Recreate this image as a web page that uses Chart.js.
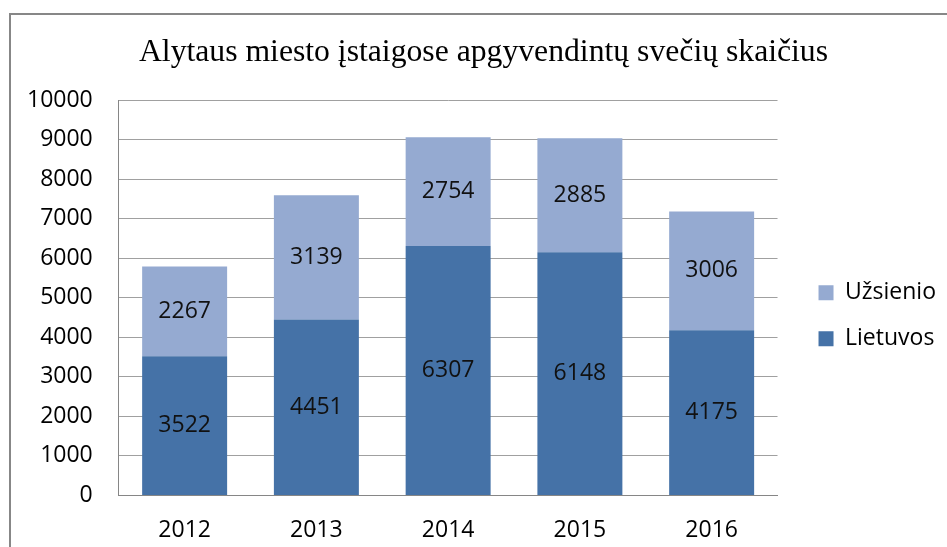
<!DOCTYPE html>
<html>
<head>
<meta charset="utf-8">
<script src="https://cdn.jsdelivr.net/npm/chart.js@4"></script>
<style>
  html, body { margin: 0; padding: 0; background: #fff; overflow: hidden; }
  body { width: 947px; height: 547px; position: relative; }
  #frame {
    position: absolute; left: 9px; top: 13px;
    border-left: 2px solid #878787; border-top: 2px solid #878787;
    width: 967px; height: 558px;
  }
</style>
</head>
<body>
<div id="frame"><canvas id="chart" width="967" height="558"></canvas></div>
<script>
// Alytaus miesto apgyvendinti svečiai

const years = ['2012', '2013', '2014', '2015', '2016'];
const lietuvos = [3522, 4451, 6307, 6148, 4175];
const uzsienio = [2267, 3139, 2754, 2885, 3006];
const yTicks = [0, 1000, 2000, 3000, 4000, 5000, 6000, 7000, 8000, 9000, 10000];

const FONT = "'Open Sans', sans-serif";

// numbers in the middle of each bar segment
const segmentLabels = {
  id: 'segmentLabels',
  afterDatasetsDraw(chart) {
    const ctx = chart.ctx;
    ctx.save();
    ctx.font = '23px ' + FONT;
    ctx.fillStyle = '#111';
    ctx.textAlign = 'center';
    ctx.textBaseline = 'middle';
    chart.data.datasets.forEach((ds, i) => {
      chart.getDatasetMeta(i).data.forEach((bar, j) => {
        ctx.fillText(ds.data[j], bar.x, (bar.y + bar.base) / 2);
      });
    });
    ctx.restore();
  }
};

// the title in the original sits a little right of the canvas middle
const titleNudge = {
  id: 'titleNudge',
  afterLayout(chart) {
    if (chart.titleBlock) {
      chart.titleBlock.left += 10;
      chart.titleBlock.right += 10;
    }
  }
};

new Chart(document.getElementById('chart'), {
  type: 'bar',
  data: {
    labels: years,
    datasets: [
      { label: 'Lietuvos', data: lietuvos, backgroundColor: '#4572A7' },
      { label: 'Užsienio', data: uzsienio, backgroundColor: '#95AAD1' }
    ]
  },
  options: {
    responsive: false,
    animation: false,
    layout: { padding: { left: -10, right: 32, bottom: 8, top: 0 } },
    datasets: { bar: { barPercentage: 0.645, categoryPercentage: 1 } },
    plugins: {
      title: {
        display: true,
        text: 'Alytaus miesto įstaigose apgyvendintų svečių skaičius',
        color: '#000',
        font: { family: "'Liberation Serif', serif", size: 31.7, weight: 'normal' },
        padding: { top: 19, bottom: 28 }
      },
      legend: {
        position: 'right',
        reverse: true,
        title: { display: true, text: '', padding: 0, font: { size: 43 } },
        labels: {
          boxWidth: 15, boxHeight: 15, padding: 23,
          color: '#000',
          font: { family: FONT, size: 23 }
        }
      },
      tooltip: { enabled: false }
    },
    scales: {
      x: {
        stacked: true,
        grid: { display: false, drawTicks: false },
        border: { color: '#868686' },
        ticks: { color: '#000', padding: 21, font: { family: FONT, size: 23 } }
      },
      y: {
        stacked: true,
        min: 0, max: 10000,
        afterBuildTicks(scale) { scale.ticks = yTicks.map(v => ({ value: v })); },
        grid: { color: '#A0A0A0', drawTicks: false },
        border: { color: '#868686' },
        ticks: {
          color: '#000', padding: 26, font: { family: FONT, size: 23 },
          callback: v => String(v)
        }
      },
      gap: {
        position: 'right',
        grid: { display: false },
        border: { display: false },
        ticks: { display: false },
        afterFit(scale) { scale.width = 18; }
      }
    }
  },
  plugins: [segmentLabels, titleNudge]
});
</script>
</body>
</html>
